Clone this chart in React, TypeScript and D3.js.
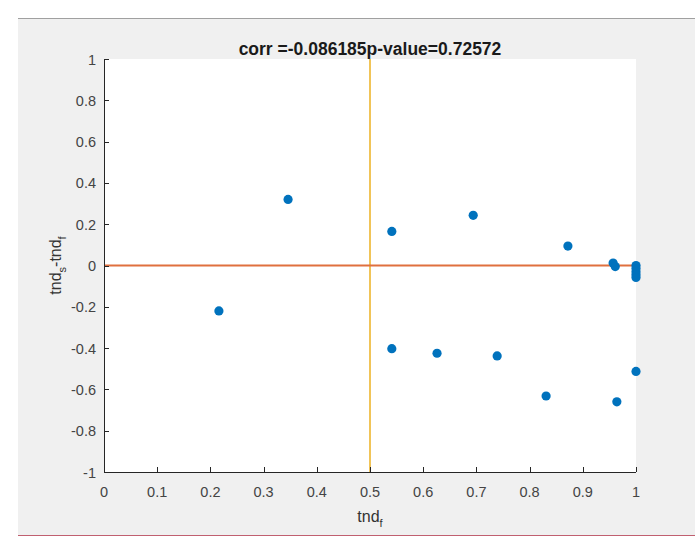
import * as d3 from "d3";

const tndF = [0.216, 0.346, 0.541, 0.541, 0.626, 0.694, 0.739, 0.831, 0.872, 0.957, 0.961, 0.964, 1, 1, 1, 1, 1, 1];
const tndDiff = [-0.22, 0.32, 0.165, -0.403, -0.425, 0.243, -0.438, -0.632, 0.094, 0.012, -0.005, -0.66, 0, -0.015, -0.03, -0.045, -0.058, -0.513];
const xTicks = [0, 0.1, 0.2, 0.3, 0.4, 0.5, 0.6, 0.7, 0.8, 0.9, 1];
const yTicks = [-1, -0.8, -0.6, -0.4, -0.2, 0, 0.2, 0.4, 0.6, 0.8, 1];
const titleText = "corr =-0.086185p-value=0.72572";

const width = 695;
const height = 540;
const left = 104, right = 636, top = 59, bottom = 472;
const font = "Liberation Sans, Arial, Helvetica, sans-serif";

export default function App() {
  const x = d3.scaleLinear().domain([0, 1]).range([left, right]);
  const y = d3.scaleLinear().domain([-1, 1]).range([bottom, top]);
  const fmt = (v: number) => (v === 0 ? "0" : String(+v.toFixed(1)));

  return (
    <svg
      width={width}
      height={height}
      style={{ position: "absolute", left: 0, top: 0, background: "#fff" }}
    >
      <rect x={18} y={18} width={width - 18} height={517} fill="#f0f0f0" />
      <line x1={18} x2={width} y1={18.5} y2={18.5} stroke="#a0a0a0" />
      <line x1={18} x2={width} y1={535.5} y2={535.5} stroke="#c06070" />
      <rect x={left} y={top} width={right - left} height={bottom - top} fill="#fff" />

      {/* reference lines */}
      <line x1={x(0.5)} x2={x(0.5)} y1={top} y2={bottom} stroke="#EDB120" strokeWidth={1.5} />
      <line x1={left} x2={right} y1={y(0)} y2={y(0)} stroke="#E0703F" strokeWidth={2} />

      {/* axes */}
      <g stroke="#262626" strokeWidth={1} fill="none">
        <line x1={left + 0.5} x2={left + 0.5} y1={top} y2={bottom} />
        <line x1={left} x2={right} y1={bottom + 0.5} y2={bottom + 0.5} />
        {xTicks.map((t) => (
          <line key={"xt" + t} x1={Math.round(x(t)) + 0.5} x2={Math.round(x(t)) + 0.5} y1={bottom} y2={bottom - 5} />
        ))}
        {yTicks.map((t) => (
          <line key={"yt" + t} x1={left} x2={left + 5} y1={Math.round(y(t)) + 0.5} y2={Math.round(y(t)) + 0.5} />
        ))}
      </g>
      <g fontFamily={font} fontSize={14.5} fill="#444">
        {xTicks.map((t) => (
          <text key={"xl" + t} x={x(t)} y={bottom + 25} textAnchor="middle">
            {fmt(t)}
          </text>
        ))}
        {yTicks.map((t) => (
          <text key={"yl" + t} x={left - 8} y={y(t) + 5.5} textAnchor="end">
            {fmt(t)}
          </text>
        ))}
      </g>

      {/* points */}
      <g fill="#0072BD">
        {tndF.map((v, i) => (
          <circle key={i} cx={x(v)} cy={y(tndDiff[i])} r={4.6} />
        ))}
      </g>

      <text x={(left + right) / 2 + 0} y={55} textAnchor="middle" fontFamily={font} fontSize={17.5} fontWeight="bold" fill="#1a1a1a">
        {titleText}
      </text>
      <text x={(left + right) / 2} y={522} textAnchor="middle" fontFamily={font} fontSize={16} fill="#333">
        tnd<tspan dy={5} fontSize={11}>f</tspan>
      </text>
      <text
        transform={`translate(61,${(top + bottom) / 2}) rotate(-90)`}
        textAnchor="middle"
        fontFamily={font}
        fontSize={16}
        fill="#333"
      >
        tnd<tspan dy={5} fontSize={11}>s</tspan>
        <tspan dy={-5}>-tnd</tspan>
        <tspan dy={5} fontSize={11}>f</tspan>
      </text>
    </svg>
  );
}
